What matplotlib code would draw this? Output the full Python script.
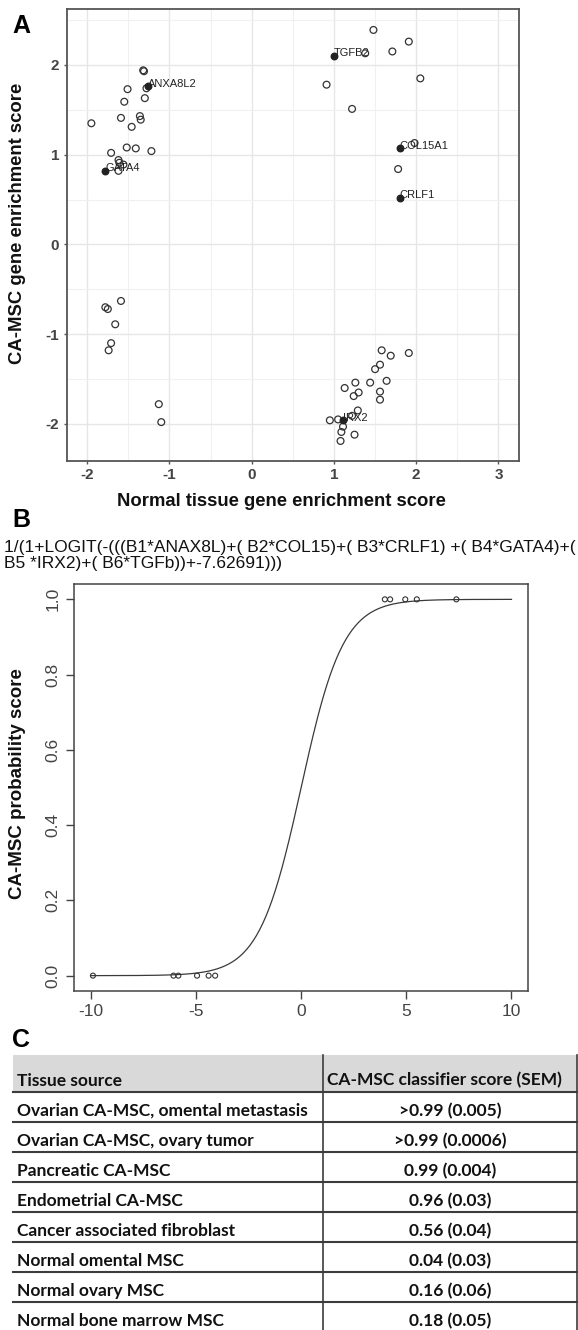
import numpy as np
import matplotlib.pyplot as plt

plt.rcParams['font.family'] = ['Liberation Sans', 'DejaVu Sans']
plt.rcParams['axes.unicode_minus'] = False

W, H = 578, 1330

# =============================
# Panel A data
# =============================
open_x = [1.48, 1.91, 1.71, 1.38, 2.05, 0.91, 1.22, 1.98, 1.78,
          -1.32, -1.31, -1.28, -1.51, -1.30, -1.55, -1.59, -1.36, -1.35, -1.95,
          -1.46, -1.52, -1.41, -1.22, -1.71, -1.62, -1.61, -1.56, -1.62,
          -1.78, -1.75, -1.59, -1.66, -1.71, -1.74, -1.13, -1.10,
          1.58, 1.69, 1.91, 1.56, 1.50, 1.26, 1.44, 1.64, 1.13, 1.56, 1.30,
          1.24, 1.56, 1.29, 1.22, 0.95, 1.05, 1.11, 1.09, 1.25, 1.08]
open_y = [2.39, 2.26, 2.15, 2.13, 1.85, 1.78, 1.51, 1.13, 0.84,
          1.94, 1.93, 1.74, 1.73, 1.63, 1.59, 1.41, 1.43, 1.39, 1.35,
          1.31, 1.08, 1.07, 1.04, 1.02, 0.94, 0.91, 0.89, 0.82,
          -0.70, -0.72, -0.63, -0.89, -1.10, -1.18, -1.78, -1.98,
          -1.18, -1.24, -1.21, -1.34, -1.39, -1.54, -1.54, -1.52, -1.60, -1.64, -1.65,
          -1.69, -1.73, -1.85, -1.91, -1.96, -1.95, -2.03, -2.09, -2.12, -2.19]

gene_names = ["TGFB2", "ANXA8L2", "GATA4", "COL15A1", "CRLF1", "IRX2"]
gene_x = [1.00, -1.26, -1.78, 1.80, 1.80, 1.11]
gene_y = [2.10, 1.76, 0.82, 1.07, 0.52, -1.96]

# =============================
# Panel B data
# =============================
sample_score = [-9.9, -6.07, -5.84, -4.95, -4.40, -4.09, 3.98, 4.23, 4.95, 5.50, 7.38]
sample_prob = [0, 0, 0, 0, 0, 0, 1, 1, 1, 1, 1]
curve_x = np.linspace(-10, 10, 400)
curve_y = 1 / (1 + np.exp(-curve_x))

formula_1 = "1/(1+LOGIT(-(((B1*ANAX8L)+( B2*COL15)+( B3*CRLF1) +( B4*GATA4)+("
formula_2 = "B5 *IRX2)+( B6*TGFb))+-7.62691)))"

# =============================
# Panel C data
# =============================
header = ["Tissue source", "CA-MSC classifier score (SEM)"]
tissue = ["Ovarian CA-MSC, omental metastasis", "Ovarian CA-MSC, ovary tumor",
          "Pancreatic CA-MSC", "Endometrial CA-MSC", "Cancer associated fibroblast",
          "Normal omental MSC", "Normal ovary MSC", "Normal bone marrow MSC"]
score = [">0.99 (0.005)", ">0.99 (0.0006)", "0.99 (0.004)", "0.96 (0.03)",
         "0.56 (0.04)", "0.04 (0.03)", "0.16 (0.06)", "0.18 (0.05)"]


def rect(l, t, r, b):
    return [l / W, 1 - b / H, (r - l) / W, (b - t) / H]


fig = plt.figure(figsize=(W / 100, H / 100), dpi=100)
page = fig.add_axes([0, 0, 1, 1])
page.set_xlim(0, W)
page.set_ylim(H, 0)
page.axis("off")

# =============================
# Panel A
# =============================
axA = fig.add_axes(rect(66.7, 9.3, 519, 460.7))
axA.scatter(open_x, open_y, s=24, facecolors="none", edgecolors="#333333", linewidths=0.9, zorder=3)
axA.scatter(gene_x, gene_y, s=22, color="#222222", zorder=4)
for name, x, y in zip(gene_names, gene_x, gene_y):
    axA.annotate(name, (x, y), xytext=(0, 2), textcoords="offset points",
                 fontsize=8, ha="left", va="center", color="#222222", zorder=5)
axA.set_xlim(-2.25, 3.25)
axA.set_ylim(-2.41, 2.62)
axA.set_xticks(range(-2, 4))
axA.set_yticks(range(-2, 3))
axA.set_xticks(np.arange(-1.5, 3.0, 1.0), minor=True)
axA.set_yticks(np.arange(-1.5, 3.0, 1.0), minor=True)
axA.grid(which="major", color="#e6e6e6", lw=1.0)
axA.grid(which="minor", color="#f0f0f0", lw=0.8)
axA.set_axisbelow(True)
axA.tick_params(which="minor", length=0)
axA.tick_params(which="major", length=2.5, width=1, color="#555555",
                labelsize=11, labelcolor="#444444", pad=3)
for lbl in axA.get_xticklabels() + axA.get_yticklabels():
    lbl.set_fontweight("bold")
for sp in axA.spines.values():
    sp.set_color("#555555")
    sp.set_linewidth(1.3)

page.text(281, 501.7, "Normal tissue gene enrichment score", fontsize=13.3,
          fontweight="bold", ha="center", va="center", color="#111111")
page.text(18, 223, "CA-MSC gene enrichment score", fontsize=13.3, rotation=90,
          fontweight="bold", ha="center", va="center", color="#111111")
page.text(12, 33, "A", fontsize=18, fontweight="bold", va="baseline")

# =============================
# Panel B
# =============================
page.text(12, 527, "B", fontsize=18, fontweight="bold", va="baseline")
page.text(4, 552, formula_1, fontsize=12.5, va="baseline", color="#111111")
page.text(4, 568, formula_2, fontsize=12.5, va="baseline", color="#111111")

axB = fig.add_axes(rect(74, 584.3, 528.3, 990.7))
axB.plot(curve_x, curve_y, color="#3a3a3a", lw=0.9)
axB.scatter(sample_score, sample_prob, s=13, facecolors="none", edgecolors="#333333",
            linewidths=0.8, zorder=3)
axB.set_xlim(-10.8, 10.8)
axB.set_ylim(-0.04, 1.04)
axB.set_xticks([-10, -5, 0, 5, 10])
axB.set_yticks([0, 0.2, 0.4, 0.6, 0.8, 1.0])
axB.set_yticklabels(["0.0", "0.2", "0.4", "0.6", "0.8", "1.0"], rotation=90, va="center")
axB.tick_params(length=5.5, width=1, color="#444444", labelsize=12.5,
                labelcolor="#444444", pad=4)
for sp in axB.spines.values():
    sp.set_color("#444444")
    sp.set_linewidth(1.1)

page.text(18, 784, "CA-MSC probability score", fontsize=13.5, rotation=90,
          fontweight="bold", ha="center", va="center", color="#111111")

# =============================
# Panel C (table)
# =============================
page.text(12, 1047, "C", fontsize=18, fontweight="bold", va="baseline")

tbl_left, tbl_mid, tbl_right = 12.9, 323.3, 577
head_top, head_bot, row_h = 1055, 1091.7, 30
page.add_patch(plt.Rectangle((tbl_left, head_top), tbl_right - tbl_left, head_bot - head_top,
                             facecolor="#d9d9d9", edgecolor="none"))
for i in range(len(tissue)):
    yl = head_bot + i * row_h
    page.plot([tbl_left, tbl_right], [yl, yl], color="#3c3c3c", lw=1.5)
page.plot([tbl_mid, tbl_mid], [head_top, H], color="#3c3c3c", lw=1.2)
page.plot([tbl_right, tbl_right], [head_top, H], color="#3c3c3c", lw=1.2)

tfont = dict(family=["Lato", "DejaVu Sans"], fontweight="bold", fontsize=12.5,
             color="#111111", va="baseline")
page.text(16.6, 1085.7, header[0], ha="left", **tfont)
page.text(326.7, 1085.7, header[1], ha="left", **tfont)
for i, (t, s) in enumerate(zip(tissue, score)):
    yb = 1116 + i * row_h
    page.text(16.6, yb, t, ha="left", **tfont)
    page.text((tbl_mid + tbl_right) / 2, yb, s, ha="center", **tfont)

fig.savefig("out.png", dpi=100)
